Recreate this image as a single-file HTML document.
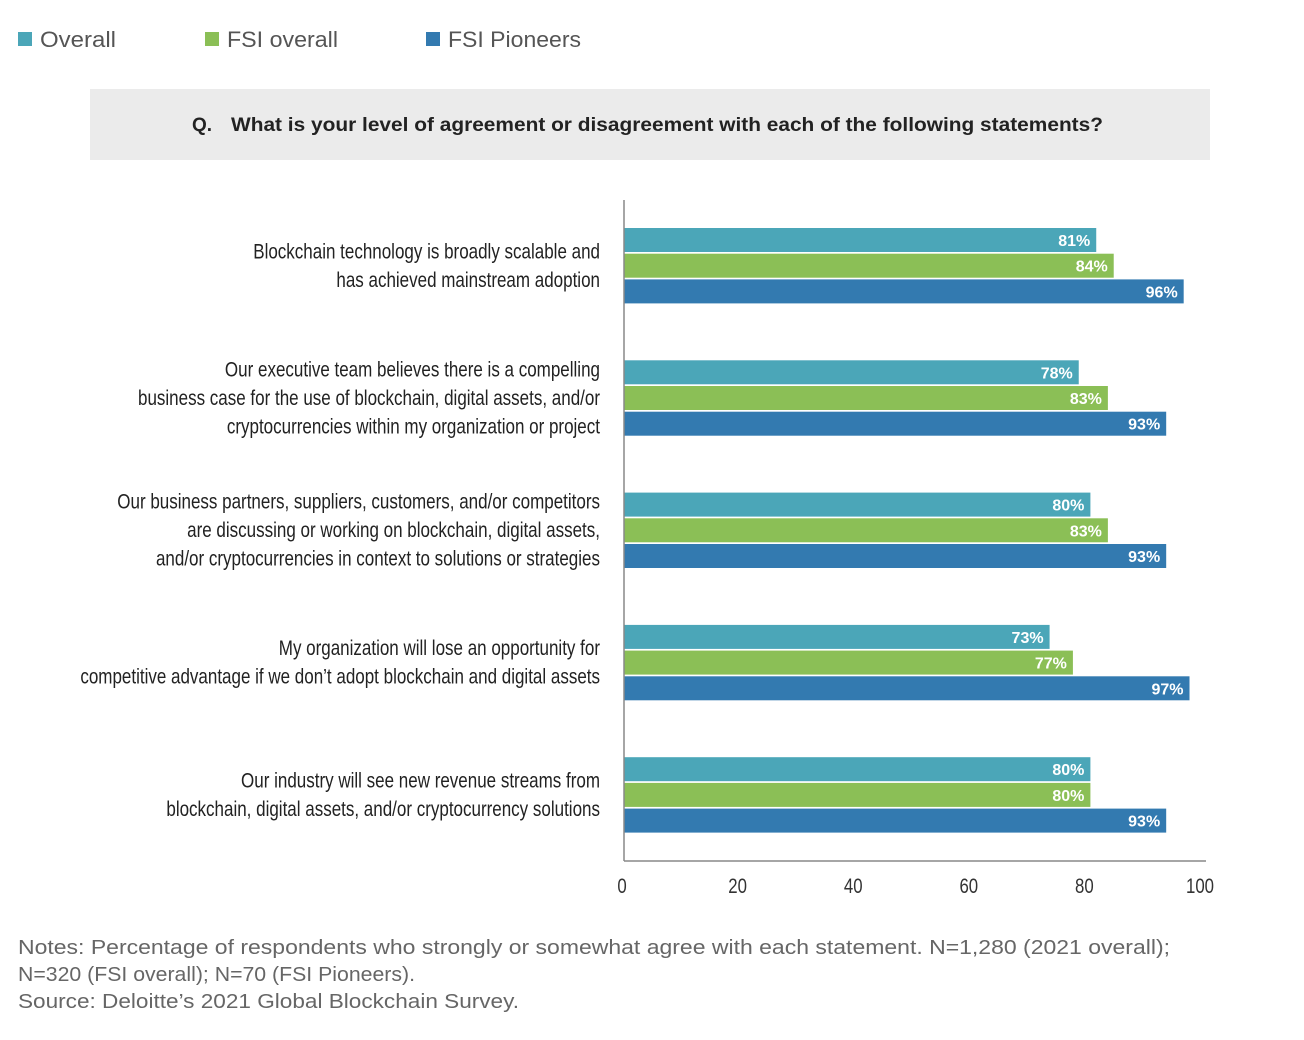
<!DOCTYPE html>
<html><head><meta charset="utf-8"><style>
body{margin:0;background:#fff;width:1304px;height:1040px;overflow:hidden;font-family:"Liberation Sans",sans-serif}
svg{position:absolute;left:0;top:0}
</style></head><body>
<svg id="chart" width="1304" height="1040">
<g>
<rect x="18" y="32" width="14" height="14" fill="#4ba6b8"/>
<text x="40" y="47" font-size="22" fill="#555" textLength="76" lengthAdjust="spacingAndGlyphs">Overall</text>
<rect x="205" y="32" width="14" height="14" fill="#8bbf56"/>
<text x="227" y="47" font-size="22" fill="#555" textLength="111" lengthAdjust="spacingAndGlyphs">FSI overall</text>
<rect x="426" y="32" width="14" height="14" fill="#337ab0"/>
<text x="448" y="47" font-size="22" fill="#555" textLength="133" lengthAdjust="spacingAndGlyphs">FSI Pioneers</text>
</g>
<rect x="90" y="89" width="1120" height="71" fill="#ebebeb"/>
<text x="192" y="131" font-size="19" font-weight="bold" fill="#222">Q.</text>
<text x="231" y="131" font-size="19" font-weight="bold" fill="#222" textLength="872" lengthAdjust="spacingAndGlyphs">What is your level of agreement or disagreement with each of the following statements?</text>
<g id="plot"></g>
<text x="18" y="954" font-size="20" fill="#666" textLength="1152" lengthAdjust="spacingAndGlyphs">Notes: Percentage of respondents who strongly or somewhat agree with each statement. N=1,280 (2021 overall);</text>
<text x="18" y="981" font-size="20" fill="#666" textLength="397" lengthAdjust="spacingAndGlyphs">N=320 (FSI overall); N=70 (FSI Pioneers).</text>
<text x="18" y="1008" font-size="20" fill="#666" textLength="501" lengthAdjust="spacingAndGlyphs">Source: Deloitte’s 2021 Global Blockchain Survey.</text>
</svg>
<script>
const categories = [
 ["Blockchain technology is broadly scalable and","has achieved mainstream adoption"],
 ["Our executive team believes there is a compelling","business case for the use of blockchain, digital assets, and/or","cryptocurrencies within my organization or project"],
 ["Our business partners, suppliers, customers, and/or competitors","are discussing or working on blockchain, digital assets,","and/or cryptocurrencies in context to solutions or strategies"],
 ["My organization will lose an opportunity for","competitive advantage if we don’t adopt blockchain and digital assets"],
 ["Our industry will see new revenue streams from","blockchain, digital assets, and/or cryptocurrency solutions"]
];
const overall = [81,78,80,73,80];
const fsiOverall = [84,83,83,77,80];
const fsiPioneers = [96,93,93,97,93];
const ticks = [0,20,40,60,80,100];
const series = [overall, fsiOverall, fsiPioneers];
const seriesNames = ["overall","fsi-overall","fsi-pioneers"];
const colors = ["#4ba6b8","#8bbf56","#337ab0"];
const ns = "http://www.w3.org/2000/svg";
const x0 = 624, xScale = 5.83;
const xPos = v => x0 + v * xScale;
const groupTop = i => 228 + i * 132.3;
const barH = 24, barStep = 25.7;
const plot = document.getElementById('plot');
function mk(tag, attrs, txt){const e=document.createElementNS(ns,tag);for(const k in attrs)e.setAttribute(k,attrs[k]);if(txt!==undefined)e.textContent=txt;plot.appendChild(e);return e;}
categories.forEach((lines,i)=>{
  const top = groupTop(i);
  const mid = top + barStep*1.5 - 1;
  const lh = 28.5;
  const start = mid - (lines.length-1)*lh/2 + 7;
  lines.forEach((ln,j)=>{
    const t = mk('text',{x:600,y:start+j*lh,'font-size':21,fill:'#222','text-anchor':'end',transform:`translate(600 0) scale(0.81 1) translate(-600 0)`},ln);
    
    
  });
  series.forEach((s,k)=>{
    const y = top + k*barStep;
    const r = mk('rect',{x:x0,y:y,width:xPos(s[i])-x0,height:barH,fill:colors[k]});
    
    
    const t = mk('text',{x:xPos(s[i])-6,y:y+18,'font-size':16,'font-weight':'bold',fill:'#fff','text-anchor':'end'},s[i]+'%');
    
    
  });
});
const ya = mk('line',{x1:x0,y1:200,x2:x0,y2:861,stroke:'#888','stroke-width':1.5});


const xa = mk('line',{x1:x0,y1:861,x2:1206,y2:861,stroke:'#888','stroke-width':1.5});


ticks.forEach(v=>{
  const cx = 622 + v * 5.78;
  const t = mk('text',{x:cx,y:893,'font-size':21,fill:'#333','text-anchor':'middle',transform:`translate(${cx} 0) scale(0.8 1) translate(${-cx} 0)`},String(v));
  
  
});
</script>
</body></html>
